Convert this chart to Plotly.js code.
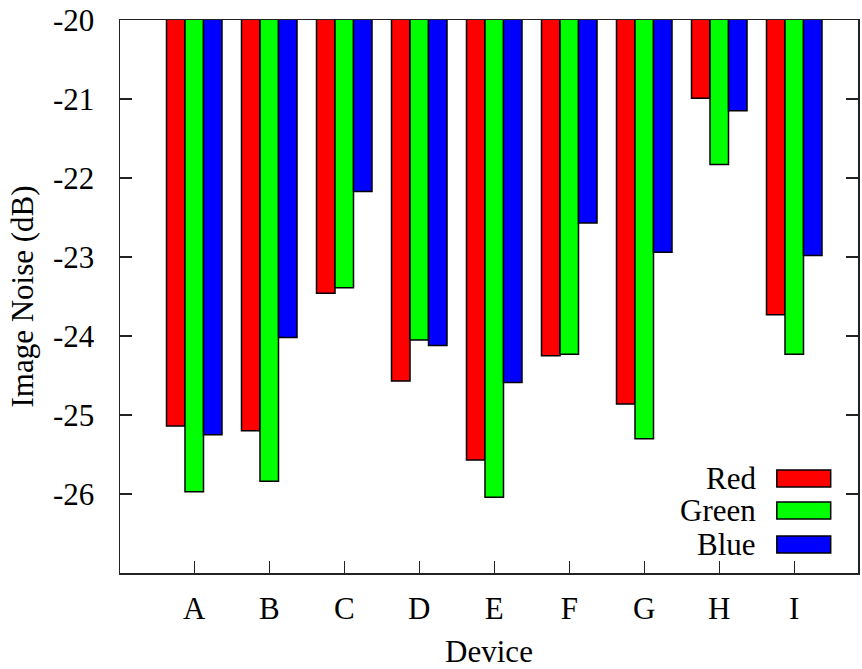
<!DOCTYPE html>
<html>
<head>
<meta charset="utf-8">
<script src="https://cdn.plot.ly/plotly-3.0.1.min.js"></script>
<style>html,body{margin:0;padding:0;background:#fff;}#chart{width:862px;height:669px;}</style>
</head>
<body>
<div id="chart"></div>
<script>
const devices = ["A","B","C","D","E","F","G","H","I"];
const seriesNames = ["Red","Green","Blue"];
const redNoise   = [-25.14,-25.20,-23.46,-24.57,-25.57,-24.25,-24.86,-20.99,-23.73];
const greenNoise = [-25.97,-25.84,-23.39,-24.05,-26.04,-24.23,-25.30,-21.83,-24.23];
const blueNoise  = [-25.25,-24.02,-22.17,-24.12,-24.59,-22.57,-22.94,-21.15,-22.98];
const yTickVals = [-20,-21,-22,-23,-24,-25,-26];
const yTickText = ["-20","-21","-22","-23","-24","-25","-26"];

const colors = ["#ff0000","#00ff00","#0000ff"];
const values = [redNoise, greenNoise, blueNoise];
const FONT = "Liberation Serif";
const FS = 31;

const traces = values.map((v,i)=>({
  type:"bar", x:devices, y:v, name:seriesNames[i],
  marker:{color:colors[i], line:{color:"#000", width:1.5}},
  showlegend:false
}));

// custom legend (text left of key box), built from series names/colors
const shapes = [], annotations = [];
const rowY = [0.1709, 0.1130, 0.0515];
seriesNames.forEach((n,i)=>{
  annotations.push({xref:"paper", yref:"paper", x:0.8645, y:rowY[i], xanchor:"right", yanchor:"middle",
    text:n, showarrow:false, font:{family:FONT, size:FS, color:"#000"}});
  shapes.push({type:"rect", xref:"paper", yref:"paper", x0:0.890, x1:0.963,
    y0:rowY[i]-0.0154, y1:rowY[i]+0.0154, fillcolor:colors[i], line:{color:"#000", width:1.5}});
});

const layout = {
  width:862, height:669,
  margin:{l:120, r:4, t:20, b:96},
  paper_bgcolor:"#fff", plot_bgcolor:"#fff",
  font:{family:FONT, size:FS, color:"#000"},
  barmode:"group", bargap:0.26, bargroupgap:0,
  xaxis:{
    range:[-0.99, 8.85], showgrid:false, zeroline:false,
    showline:true, linecolor:"#222", linewidth:1.5, mirror:true,
    ticks:"inside", ticklen:12, tickwidth:1.2, tickcolor:"#222",
    tickfont:{family:FONT, size:FS}, ticklabelstandoff:7,
    title:{text:"Device", font:{family:FONT, size:FS}, standoff:20}
  },
  yaxis:{
    range:[-27,-20], showgrid:false, zeroline:false,
    showline:true, linecolor:"#222", linewidth:1.5, mirror:"ticks",
    ticks:"inside", ticklen:12, tickwidth:1.2, tickcolor:"#222",
    tickvals:yTickVals, ticktext:yTickText, tickfont:{family:FONT, size:FS}, ticklabelstandoff:18,
    title:{text:"Image Noise (dB)", font:{family:FONT, size:FS}, standoff:10}
  },
  shapes:shapes, annotations:annotations
};

Plotly.newPlot("chart", traces, layout, {displayModeBar:false, staticPlot:true});
</script>
</body>
</html>
